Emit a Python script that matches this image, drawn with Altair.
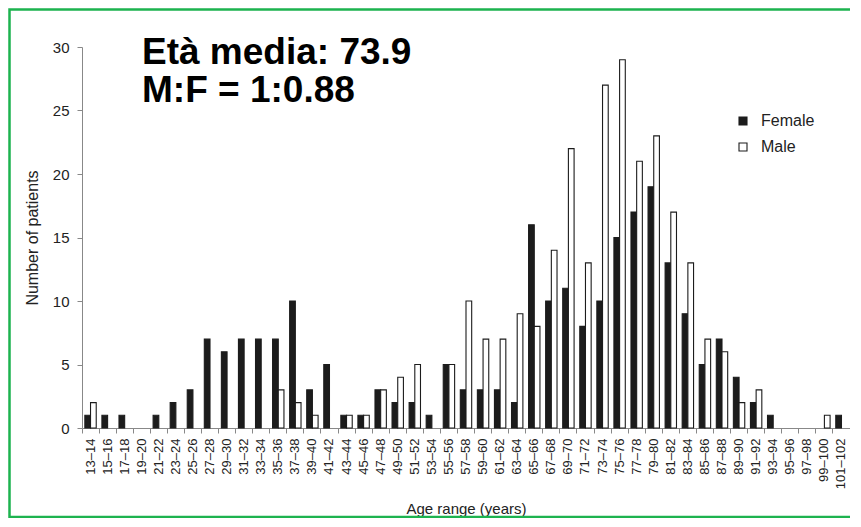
import altair as alt
import pandas as pd

age_ranges = ["13–14", "15–16", "17–18", "19–20", "21–22", "23–24", "25–26", "27–28",
              "29–30", "31–32", "33–34", "35–36", "37–38", "39–40", "41–42", "43–44",
              "45–46", "47–48", "49–50", "51–52", "53–54", "55–56", "57–58", "59–60",
              "61–62", "63–64", "65–66", "67–68", "69–70", "71–72", "73–74", "75–76",
              "77–78", "79–80", "81–82", "83–84", "85–86", "87–88", "89–90", "91–92",
              "93–94", "95–96", "97–98", "99–100", "101–102"]
female = [1, 1, 1, 0, 1, 2, 3, 7, 6, 7, 7, 7, 10, 3, 5, 1, 1, 3, 2, 2, 1, 5, 3, 3, 3,
          2, 16, 10, 11, 8, 10, 15, 17, 19, 13, 9, 5, 7, 4, 2, 1, 0, 0, 0, 1]
male = [2, 0, 0, 0, 0, 0, 0, 0, 0, 0, 0, 3, 2, 1, 0, 1, 1, 3, 4, 5, 0, 5, 10, 7, 7,
        9, 8, 14, 22, 13, 27, 29, 21, 23, 17, 13, 7, 6, 2, 3, 0, 0, 0, 1, 0]
series = ["Female", "Male"]
y_ticks = [0, 5, 10, 15, 20, 25, 30]
annotation_lines = ["Età media: 73.9", "M:F = 1:0.88"]

rows = []
for i, a in enumerate(age_ranges):
    rows.append({"age": a, "sex": "Female", "n": female[i]})
    rows.append({"age": a, "sex": "Male", "n": male[i]})
df = pd.DataFrame(rows)
df = df[df["n"] > 0]

FONT = "Liberation Sans"
W, H = 768, 381

bars = alt.Chart(df).mark_bar(stroke="#1c1c1c", strokeWidth=1.1).encode(
    x=alt.X("age:N",
            scale=alt.Scale(domain=age_ranges, paddingInner=0, paddingOuter=0),
            axis=alt.Axis(title="Age range (years)", labelAngle=270, labelFontSize=13,
                          labelColor="#222", labelPadding=5, tickSize=5, tickColor="#888",
                          domainColor="#888", bandPosition=0, labelFont=FONT,
                          titleFont=FONT, titleFontSize=15, titleFontWeight="normal",
                          titleColor="#222", titleY=80, titleBaseline="middle")),
    xOffset=alt.XOffset("sex:N", scale=alt.Scale(domain=series, paddingInner=0, paddingOuter=0.5)),
    y=alt.Y("n:Q",
            scale=alt.Scale(domain=[0, 30], nice=False),
            axis=alt.Axis(title="Number of patients", values=y_ticks, labelFontSize=15,
                          labelColor="#222", labelPadding=8, tickSize=5, tickColor="#888",
                          domainColor="#888", grid=False, labelFont=FONT,
                          titleFont=FONT, titleFontSize=16, titleFontWeight="normal",
                          titleColor="#222", titleX=-50, titleY=H / 2, titleAngle=270,
                          titleBaseline="middle", titleAlign="center")),
    color=alt.Color("sex:N",
                    scale=alt.Scale(domain=series, range=["#1c1c1c", "#ffffff"]),
                    legend=alt.Legend(title=None, orient="none", legendX=653, legendY=66,
                                      symbolType="square", symbolSize=64,
                                      symbolStrokeColor="#1c1c1c", symbolStrokeWidth=1.1,
                                      labelFontSize=16, labelFont=FONT, labelColor="#222",
                                      labelOffset=10, rowPadding=10, padding=0)),
)

t1 = alt.Chart(pd.DataFrame({"t": [annotation_lines[0]]})).mark_text(
    align="left", baseline="alphabetic", fontSize=37, fontWeight="bold", font=FONT, color="#000"
).encode(x=alt.value(60), y=alt.value(17), text="t:N")

t2 = alt.Chart(pd.DataFrame({"t": [annotation_lines[1]]})).mark_text(
    align="left", baseline="alphabetic", fontSize=37, fontWeight="bold", font=FONT, color="#000"
).encode(x=alt.value(60), y=alt.value(55), text="t:N")

border = alt.Chart(pd.DataFrame({"k": [0]})).mark_rect(
    fill=None, stroke="#1db34f", strokeWidth=2.5
).encode(x=alt.value(-72.5), x2=alt.value(790), y=alt.value(-37.5), y2=alt.value(470))

chart = alt.layer(border, bars, t1, t2).properties(
    width=W, height=H,
    autosize=alt.AutoSizeParams(type="none"),
    padding={"left": 74, "top": 39, "right": 0, "bottom": 90},
    background="white",
).configure_view(stroke=None)

chart.save("out.html", embed_options={"renderer": "svg", "actions": False})
